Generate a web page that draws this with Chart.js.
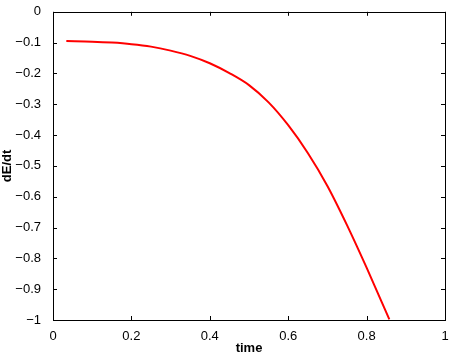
<!DOCTYPE html>
<html>
<head>
<meta charset="utf-8">
<script src="https://cdn.jsdelivr.net/npm/chart.js@4/dist/chart.umd.min.js"></script>
<style>
  html, body { margin: 0; padding: 0; background: #fff; }
  #wrap { width: 452px; height: 356px; }
</style>
</head>
<body>
<div id="wrap"><canvas id="energyChart"></canvas></div>
<script>
// values
const timeVals = [0.034, 0.1, 0.15, 0.2, 0.25, 0.3, 0.35, 0.4, 0.45, 0.5, 0.55, 0.6, 0.65, 0.7, 0.75, 0.8, 0.858];
const dEdtVals = [-0.095, -0.097, -0.100, -0.105, -0.113, -0.126, -0.143, -0.167, -0.199, -0.238, -0.294, -0.368, -0.458, -0.565, -0.692, -0.830, -0.998];
const xTicks = [0, 0.2, 0.4, 0.6, 0.8, 1];
const yTicks = [0, -0.1, -0.2, -0.3, -0.4, -0.5, -0.6, -0.7, -0.8, -0.9, -1];

const points = timeVals.map((t, i) => ({ x: t, y: dEdtVals[i] }));
const fmt = v => String(Math.round(v * 10) / 10).replace('-', '\u2212');

// MATLAB style box with ticks pointing inward
const boxTicks = {
    id: 'boxTicks',
    afterDraw(chart) {
        const ctx = chart.ctx;
        const a = chart.chartArea;
        const xs = chart.scales.x, ys = chart.scales.y;
        ctx.save();
        ctx.strokeStyle = '#000';
        ctx.lineWidth = 1;
        ctx.strokeRect(Math.round(a.left) + 0.5, Math.round(a.top) + 0.5,
            Math.round(a.right - a.left), Math.round(a.bottom - a.top));
        ctx.beginPath();
        xTicks.forEach(v => {
            const px = Math.round(xs.getPixelForValue(v)) + 0.5;
            ctx.moveTo(px, a.bottom); ctx.lineTo(px, a.bottom - 4);
            ctx.moveTo(px, a.top); ctx.lineTo(px, a.top + 4);
        });
        yTicks.forEach(v => {
            const py = Math.round(ys.getPixelForValue(v)) + 0.5;
            ctx.moveTo(a.left, py); ctx.lineTo(a.left + 4, py);
            ctx.moveTo(a.right, py); ctx.lineTo(a.right - 4, py);
        });
        ctx.stroke();
        ctx.restore();
    }
};

const ctx = document.getElementById('energyChart').getContext('2d');
new Chart(ctx, {
    type: 'line',
    data: {
        datasets: [{
            data: points,
            borderColor: '#ff0000',
            borderWidth: 2,
            pointRadius: 0,
            cubicInterpolationMode: 'monotone',
            fill: false
        }]
    },
    options: {
        responsive: true,
        maintainAspectRatio: false,
        animation: false,
        layout: { padding: { top: 11, right: 7, left: 0, bottom: 0 } },
        plugins: { legend: { display: false }, tooltip: { enabled: false } },
        scales: {
            x: {
                type: 'linear',
                min: 0, max: 1,
                afterBuildTicks: s => { s.ticks = xTicks.map(v => ({ value: v })); },
                afterFit: s => { s.height = 36; },
                grid: { display: false },
                border: { display: false },
                ticks: {
                    color: '#000', padding: 1, maxRotation: 0,
                    font: { family: 'Liberation Sans, Arial, sans-serif', size: 13 },
                    callback: v => fmt(v)
                },
                title: {
                    display: true, text: 'time', color: '#000',
                    font: { family: 'Liberation Sans, Arial, sans-serif', size: 13, weight: 'bold' },
                    padding: { top: 0, bottom: 0 }
                }
            },
            y: {
                type: 'linear',
                min: -1, max: 0,
                afterBuildTicks: s => { s.ticks = yTicks.map(v => ({ value: v })); },
                afterFit: s => { s.width = 53; },
                grid: { display: false },
                border: { display: false },
                ticks: {
                    color: '#000', padding: 4,
                    font: { family: 'Liberation Sans, Arial, sans-serif', size: 13 },
                    callback: v => fmt(v)
                },
                title: {
                    display: true, text: 'dE/dt', color: '#000',
                    font: { family: 'Liberation Sans, Arial, sans-serif', size: 13, weight: 'bold' },
                    padding: { top: 0, bottom: 0 }
                }
            }
        }
    },
    plugins: [boxTicks]
});
</script>
</body>
</html>
